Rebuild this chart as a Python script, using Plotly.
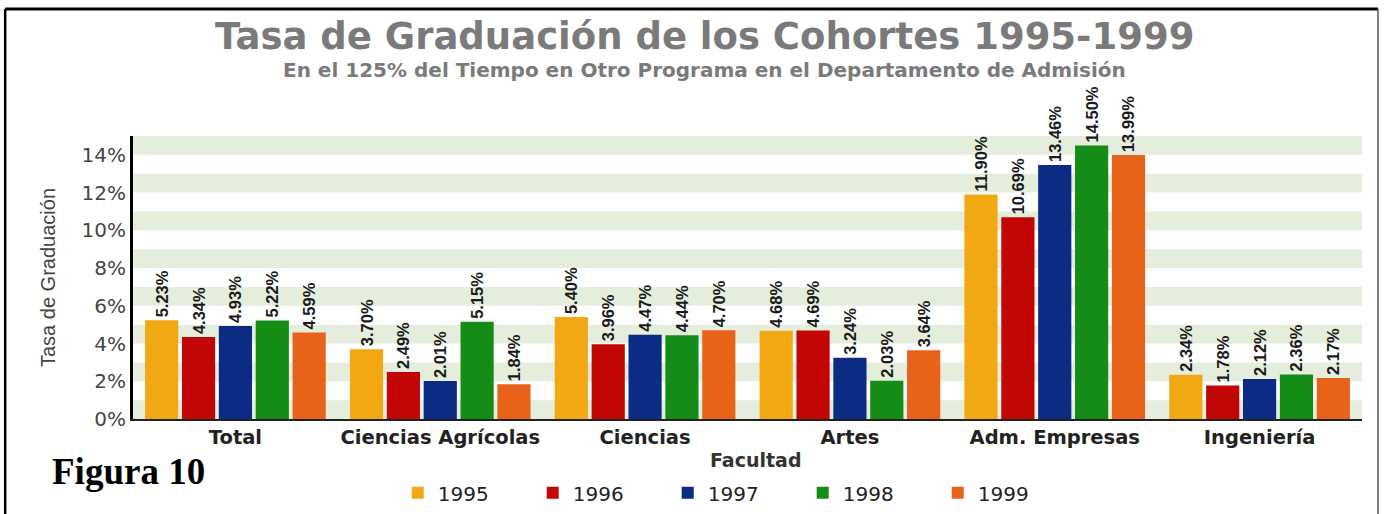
import plotly.graph_objects as go

FACULTADES = ["Total", "Ciencias Agrícolas", "Ciencias", "Artes", "Adm. Empresas", "Ingeniería"]
COHORTES = ["1995", "1996", "1997", "1998", "1999"]
TASA_1995 = [5.23, 3.70, 5.40, 4.68, 11.90, 2.34]
TASA_1996 = [4.34, 2.49, 3.96, 4.69, 10.69, 1.78]
TASA_1997 = [4.93, 2.01, 4.47, 3.24, 13.46, 2.12]
TASA_1998 = [5.22, 5.15, 4.44, 2.03, 14.50, 2.36]
TASA_1999 = [4.59, 1.84, 4.70, 3.64, 13.99, 2.17]
Y_TICKS = [0, 2, 4, 6, 8, 10, 12, 14]

SERIES = [TASA_1995, TASA_1996, TASA_1997, TASA_1998, TASA_1999]
COLORES = ["#F2A812", "#C20606", "#0B2B85", "#148C16", "#E8621A"]
ANCHA = "DejaVu Sans, Verdana, sans-serif"
ARIAL = "Liberation Sans, Arial, sans-serif"
GRIS = "#7a7a7a"

fig = go.Figure()
for anio, vals, color in zip(COHORTES, SERIES, COLORES):
    fig.add_trace(go.Bar(
        x=FACULTADES, y=vals, name=anio, marker=dict(color=color, line=dict(width=0)),
        text=[f"{v:.2f}%" for v in vals], textposition="outside", textangle=-90,
        textfont=dict(family=ARIAL, size=16.5, color="#1a1a1a", weight="bold"),
        cliponaxis=False, constraintext="none"))

# franjas verdes de fondo (cada 1%, alternadas)
shapes = [dict(type="rect", xref="paper", yref="y", x0=0, x1=1, y0=k, y1=k + 1,
               fillcolor="#E5EDDD", line=dict(width=0), layer="below")
          for k in range(0, 15, 2)]
# marco del documento
marco = dict(xref="paper", yref="paper", type="line")
shapes += [
    dict(marco, x0=-0.104, x1=1.013, y0=1.449, y1=1.449, line=dict(color="black", width=3)),
    dict(marco, x0=-0.104, x1=-0.104, y0=-0.5, y1=1.449, line=dict(color="black", width=2.5)),
    dict(marco, x0=1.013, x1=1.013, y0=-0.5, y1=1.449, line=dict(color="#555", width=1.5)),
]

fig.update_layout(
    width=1384, height=514, paper_bgcolor="white", plot_bgcolor="white",
    margin=dict(l=133, r=22, t=136, b=95, autoexpand=False),
    barmode="group", bargap=0.1, bargroupgap=0.1,
    font=dict(family=ANCHA, color="#333"),
    shapes=shapes,
    xaxis=dict(showline=True, linecolor="#222", linewidth=2, ticks="", automargin=False,
               tickfont=dict(family=ANCHA, size=19.5, color="#222", weight="bold")),
    yaxis=dict(range=[0, 15], tickvals=Y_TICKS, ticktext=[f"{t}%" for t in Y_TICKS],
               showgrid=False, zeroline=False, showline=True, linecolor="black",
               linewidth=3, ticks="", automargin=False,
               tickfont=dict(family=ANCHA, size=20, color="#444"),
               title=dict(text="Tasa de Graduación", standoff=21,
                          font=dict(family=ARIAL, size=20, color="#444"))),
    legend=dict(orientation="h", x=0.49, xanchor="center", y=-0.261, yanchor="middle",
                font=dict(family=ANCHA, size=20, color="#222"), traceorder="normal",
                entrywidth=90, entrywidthmode="pixels"),
    annotations=[
        dict(text="<b>Tasa de Graduación de los Cohortes 1995-1999</b>", xref="paper",
             yref="paper", x=0.465, y=1.353, showarrow=False, xanchor="center",
             yanchor="middle", font=dict(size=37, color=GRIS)),
        dict(text="<b>En el 125% del Tiempo en Otro Programa en el Departamento de Admisión</b>",
             xref="paper", yref="paper", x=0.465, y=1.232, showarrow=False,
             xanchor="center", yanchor="middle", font=dict(size=20, color=GRIS)),
        dict(text="<b>Facultad</b>", xref="paper", yref="paper", x=0.507, y=-0.145,
             showarrow=False, xanchor="center", yanchor="middle",
             font=dict(size=19, color="#333")),
        dict(text="<b>Figura 10</b>", xref="paper", yref="paper", x=-0.0675, y=-0.185,
             showarrow=False, xanchor="left", yanchor="middle",
             font=dict(family="Liberation Serif, Times New Roman, serif", size=37,
                       color="black")),
    ],
)

fig.write_html("out.html", config={"displayModeBar": False},
               post_script="document.body.style.margin='0';")
